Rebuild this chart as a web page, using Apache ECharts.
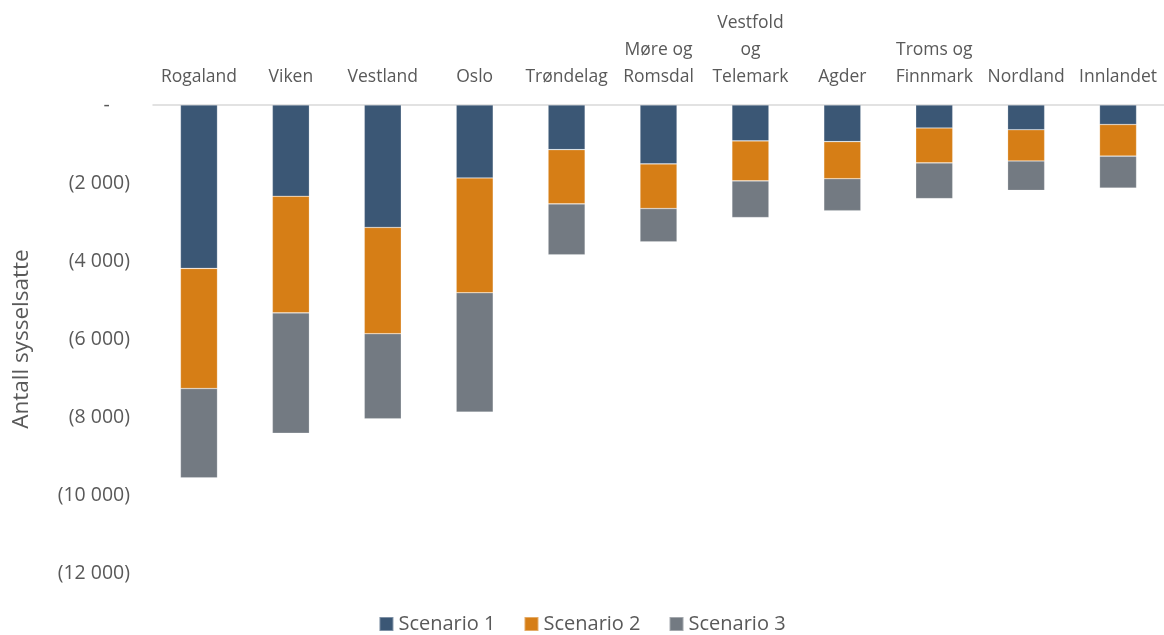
<!DOCTYPE html>
<html>
<head>
<meta charset="utf-8">
<title>Antall sysselsatte per fylke</title>
<script src="https://cdn.jsdelivr.net/npm/echarts@6/dist/echarts.min.js"></script>
<style>
  html, body { margin: 0; padding: 0; background: #fff; }
  #chart { width: 1164px; height: 635px; }
</style>
</head>
<body>
<div id="chart"></div>
<script>
// fylker (kategorier)
const fylker = ['Rogaland', 'Viken', 'Vestland', 'Oslo', 'Trøndelag', 'Møre og\nRomsdal',
  'Vestfold\nog\nTelemark', 'Agder', 'Troms og\nFinnmark', 'Nordland', 'Innlandet']

// endring i antall sysselsatte, lest av figuren
const scenario1 = [-4190, -2340, -3140, -1870, -1145, -1510, -920, -940, -590, -635, -500]
const scenario2 = [-3080, -2990, -2725, -2945, -1390, -1145, -1025, -950, -895, -800, -810]
const scenario3 = [-2290, -3085, -2180, -3060, -1305, -855, -940, -820, -915, -755, -820]

const seriesNames = ['Scenario 1', 'Scenario 2', 'Scenario 3']
const colors = ['#3B5775', '#D67E16', '#737A82']

const font = '"Open Sans", "Liberation Sans", sans-serif'

// (2 000) -> regnskapsformat
function fmt (v) {
  if (v === 0) return '-    '
  const s = Math.abs(v).toString().replace(/\B(?=(\d{3})+(?!\d))/g, ' ')
  return v < 0 ? '(' + s + ')' : s + ' '
}

const chart = echarts.init(document.getElementById('chart'))
chart.setOption({
  animation: false,
  textStyle: { fontFamily: font },
  color: colors,
  grid: {
    left: 153,
    right: 0,
    top: 105,
    bottom: 62,
    outerBoundsMode: 'none',
    containLabel: false
  },
  legend: {
    top: 609,
    itemWidth: 14,
    itemHeight: 14,
    itemGap: 28,
    icon: 'rect',
    textStyle: { fontSize: 20, color: '#595959', fontFamily: font }
  },
  xAxis: {
    type: 'category',
    position: 'top',
    data: fylker,
    axisLine: { lineStyle: { color: '#D9D9D9', width: 1.5 } },
    axisTick: { show: false },
    axisLabel: {
      interval: 0,
      color: '#595959',
      fontSize: 17.5,
      lineHeight: 27,
      margin: 14
    }
  },
  yAxis: {
    type: 'value',
    min: -12000,
    max: 0,
    interval: 2000,
    name: 'Antall sysselsatte',
    nameLocation: 'middle',
    nameGap: 120,
    nameTextStyle: { fontSize: 22.5, color: '#595959' },
    axisLine: { show: false },
    axisTick: { show: false },
    splitLine: { show: false },
    axisLabel: {
      color: '#595959',
      fontSize: 19.5,
      margin: 23,
      formatter: fmt
    }
  },
  series: [scenario1, scenario2, scenario3].map((d, i) => ({
    name: seriesNames[i],
    type: 'bar',
    stack: 'total',
    barWidth: 37,
    data: d,
    itemStyle: { borderColor: 'rgba(255,255,255,0.35)', borderWidth: 0.6 }
  }))
})
</script>
</body>
</html>
